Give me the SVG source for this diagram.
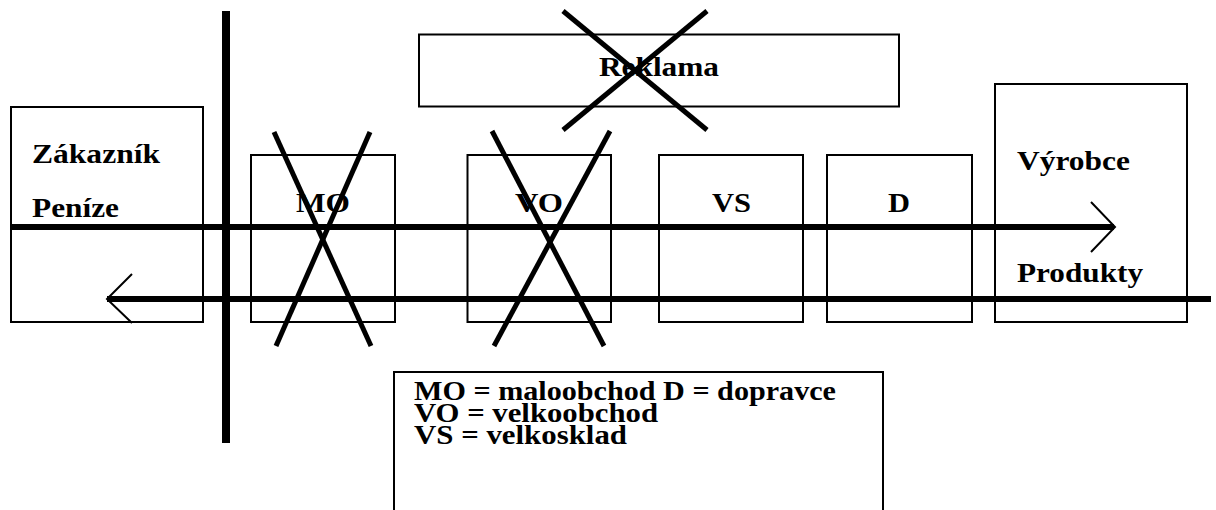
<svg xmlns="http://www.w3.org/2000/svg" width="1216" height="510" viewBox="0 0 1216 510">
<style>
.box{fill:#fff;stroke:#000;stroke-width:2}
.t{font-family:"Liberation Serif","Times New Roman",serif;font-weight:bold;font-size:28px;fill:#000}
.flow{stroke:#000;stroke-width:6;fill:none}
.head{stroke:#000;stroke-width:2;fill:none}
.x{stroke:#000;stroke-width:5;fill:none}
</style>
<rect width="1216" height="510" fill="#fff"/>
<g id="zakaznik">
<rect class="box" x="11" y="107" width="192" height="215"/>
<text class="t" x="32" y="163" textLength="128" lengthAdjust="spacingAndGlyphs">Zákazník</text>
<text class="t" x="32" y="217" textLength="87" lengthAdjust="spacingAndGlyphs">Peníze</text>
</g>
<g id="reklama">
<rect class="box" x="419" y="34.5" width="480" height="72"/>
<text class="t" x="599" y="76" textLength="120" lengthAdjust="spacingAndGlyphs">Reklama</text>
</g>
<g id="mo">
<rect class="box" x="251" y="155" width="144" height="167"/>
<text class="t" x="296" y="212" textLength="54" lengthAdjust="spacingAndGlyphs">MO</text>
</g>
<g id="vo">
<rect class="box" x="467.5" y="155" width="143.5" height="167"/>
<text class="t" x="515" y="212" textLength="48" lengthAdjust="spacingAndGlyphs">VO</text>
</g>
<g id="vs">
<rect class="box" x="659" y="155" width="144" height="167"/>
<text class="t" x="712" y="212" textLength="39" lengthAdjust="spacingAndGlyphs">VS</text>
</g>
<g id="d">
<rect class="box" x="827" y="155" width="145" height="167"/>
<text class="t" x="888" y="212" textLength="22" lengthAdjust="spacingAndGlyphs">D</text>
</g>
<g id="vyrobce">
<rect class="box" x="995" y="84" width="192" height="238"/>
<text class="t" x="1017" y="170" textLength="113" lengthAdjust="spacingAndGlyphs">Výrobce</text>
<text class="t" x="1017" y="282" textLength="126" lengthAdjust="spacingAndGlyphs">Produkty</text>
</g>
<g id="legend">
<rect class="box" x="394" y="372" width="489" height="200"/>
<text class="t" x="414" y="400" textLength="422" lengthAdjust="spacingAndGlyphs">MO = maloobchod D = dopravce</text>
<text class="t" x="414" y="422" textLength="244" lengthAdjust="spacingAndGlyphs">VO = velkoobchod</text>
<text class="t" x="414" y="444" textLength="213" lengthAdjust="spacingAndGlyphs">VS = velkosklad</text>
</g>
<g id="connectors">
<line class="flow" x1="11" y1="227" x2="1114" y2="227"/>
<polyline class="head" points="1091,202 1115,227 1091,252"/>
<line class="flow" x1="107" y1="299" x2="1211" y2="299"/>
<polyline class="head" points="132,274 107,299 132,323"/>
<line x1="226" y1="11" x2="226" y2="443" stroke="#000" stroke-width="8"/>
</g>
<g id="crosses">
<line class="x" x1="274" y1="132" x2="371" y2="346"/>
<line class="x" x1="370" y1="132" x2="276" y2="346"/>
<line class="x" x1="492" y1="131" x2="604" y2="346"/>
<line class="x" x1="610" y1="131" x2="494" y2="346"/>
<line class="x" x1="563" y1="11" x2="707" y2="130"/>
<line class="x" x1="707" y1="11" x2="563" y2="130"/>
</g>
</svg>
